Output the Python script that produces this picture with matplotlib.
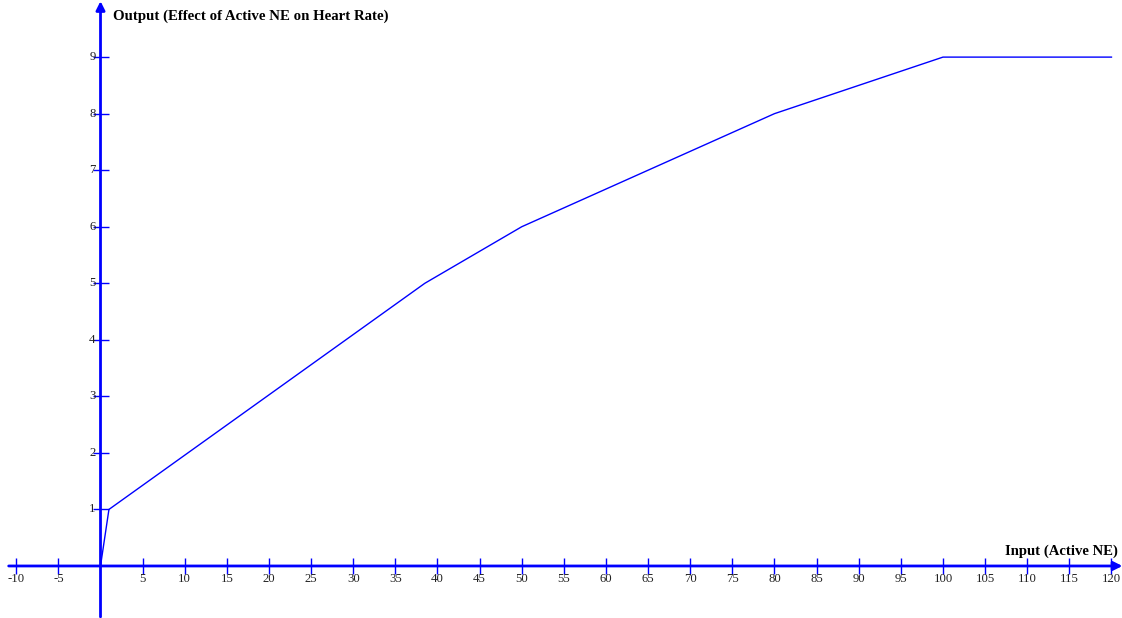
import matplotlib
matplotlib.use('Agg')
import matplotlib.pyplot as plt

# piecewise curve
input_ne = [0, 1, 38.5, 50, 80, 100, 120]
effect = [0, 1, 5, 6, 8, 9, 9]

x_ticks = [t for t in range(-10, 125, 5) if t != 0]
y_ticks = list(range(1, 10))

x_title = 'Input (Active NE)'
y_title = 'Output (Effect of Active NE on Heart Rate)'


def main():
    fig = plt.figure(figsize=(11.22, 6.18), dpi=100)
    ax = fig.add_axes([0, 0, 1, 1])
    ax.set_xlim(-11.93, 121.25)
    ax.set_ylim(-0.92, 10.01)
    ax.axis('off')

    serif = 'Liberation Serif'

    # axes with arrow heads
    ax.annotate('', xy=(121.3, 0), xytext=(-10.9, 0),
                arrowprops=dict(arrowstyle='-|>', color='blue', lw=2,
                                mutation_scale=13, shrinkA=0, shrinkB=0))
    ax.annotate('', xy=(0, 9.99), xytext=(0, -0.9),
                arrowprops=dict(arrowstyle='-|>', color='blue', lw=2,
                                mutation_scale=13, shrinkA=0, shrinkB=0))

    # cross ticks
    ax.plot(x_ticks, [0] * len(x_ticks), '|', color='blue', ms=12, mew=1)
    ax.plot([0] * len(y_ticks), y_ticks, '_', color='blue', ms=12, mew=1)

    for t in x_ticks:
        ax.text(t, -0.12, str(t), ha='center', va='top', fontsize=9.2,
                family=serif, color='#222222')
    for t in y_ticks:
        ax.text(-0.6, t, str(t), ha='right', va='center', fontsize=9.2,
                family=serif, color='#222222')

    ax.text(1.45, 9.72, y_title, ha='left', va='center', fontsize=10.7,
            family=serif, fontweight='bold')
    ax.text(120.8, 0.26, x_title, ha='right', va='center', fontsize=10.6,
            family=serif, fontweight='bold')

    ax.plot(input_ne, effect, color='blue', lw=1)

    fig.savefig('out.png', dpi=100)


if __name__ == "__main__":
    main()
